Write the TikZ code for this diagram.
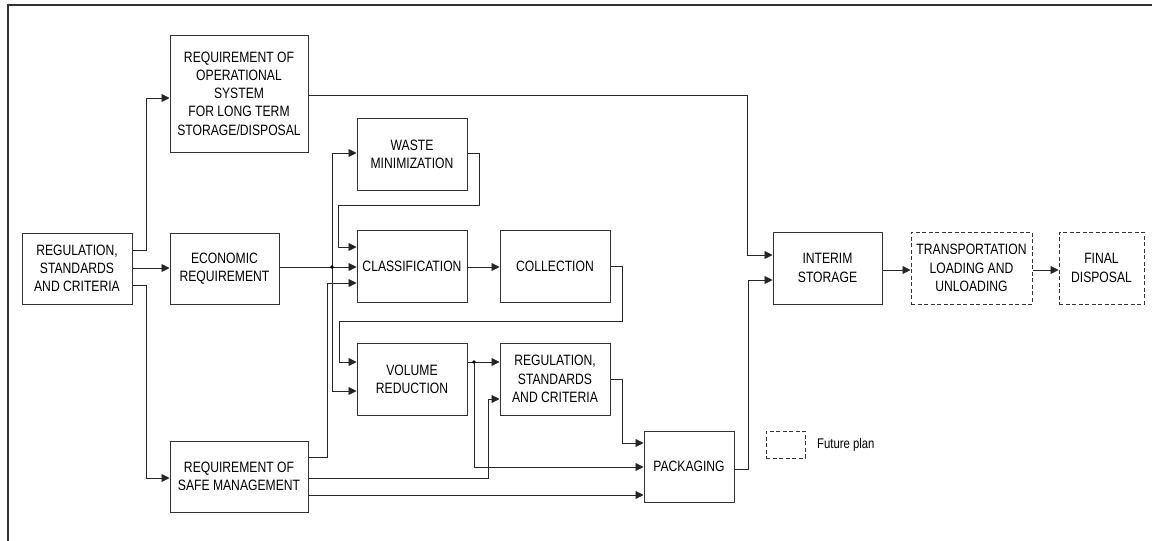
\documentclass[tikz,border=0pt]{standalone}
\usepackage{fontspec}
\setmainfont{Liberation Sans}[FakeStretch=0.81]
\usetikzlibrary{arrows.meta}
\begin{document}
\begin{tikzpicture}[x=1pt,y=-1pt,
  box/.style={draw=black!80, line width=1pt, inner sep=0pt, align=center,
    font=\fontsize{15}{18.3}\selectfont},
  futurebox/.style={box, dash pattern=on 4pt off 2.5pt},
  arr/.style={draw=black!85, line width=0.9pt, -{Triangle[length=8pt,width=8pt]}},
  dot/.style={fill=black, circle, inner sep=0pt, minimum size=3.6pt}]
\useasboundingbox (0,0) rectangle (1152,541);
% partial frame
\draw[black!80, line width=1.8pt] (8,541) -- (8,5) -- (1152,5);

% process blocks
\node[box, minimum width=110pt, minimum height=71pt] (A) at (77,268.5) {REGULATION,\\STANDARDS\\AND CRITERIA};
\node[box, minimum width=138pt, minimum height=117pt] (B) at (239,93.5) {REQUIREMENT OF\\OPERATIONAL\\SYSTEM\\FOR LONG TERM\\STORAGE/DISPOSAL};
\node[box, minimum width=109pt, minimum height=71pt] (C) at (224.5,268.5) {ECONOMIC\\REQUIREMENT};
\node[box, minimum width=138pt, minimum height=71pt] (D) at (239,476.5) {REQUIREMENT OF\\SAFE MANAGEMENT};
\node[box, minimum width=110pt, minimum height=72pt] (WM) at (412,154) {WASTE\\MINIMIZATION};
\node[box, minimum width=110pt, minimum height=72pt] (CL) at (412,266) {CLASSIFICATION};
\node[box, minimum width=110pt, minimum height=72pt] (CO) at (555,266) {COLLECTION};
\node[box, minimum width=110pt, minimum height=72pt] (VR) at (412,379) {VOLUME\\REDUCTION};
\node[box, minimum width=110pt, minimum height=72pt] (R2) at (555,379) {REGULATION,\\STANDARDS\\AND CRITERIA};
\node[box, minimum width=90pt, minimum height=71pt] (PK) at (689,466.5) {PACKAGING};
\node[box, minimum width=109pt, minimum height=72pt] (IS) at (827.5,268) {INTERIM\\STORAGE};
\node[futurebox, minimum width=121pt, minimum height=72pt] (TR) at (971.5,268) {TRANSPORTATION\\LOADING AND\\UNLOADING};
\node[futurebox, minimum width=85pt, minimum height=72pt] (FD) at (1101.5,268) {FINAL\\DISPOSAL};

% legend
\node[futurebox, minimum width=39pt, minimum height=27pt] (LG) at (785.5,444.5) {};
\node[anchor=west, inner sep=0pt, font=\fontsize{14}{16}\selectfont] (LGT) at (817,444.5) {Future plan};

% junctions
\coordinate (j1) at (332,267);
\coordinate (j2) at (474,362);

% connectors
\draw[arr] (A.east|-0,250) -| (146,98) -- (B.west|-0,98);
\draw[arr] (A.east|-0,268) -- (C.west|-0,268);
\draw[arr] (A.east|-0,285) -| (146,478) -- (D.west|-0,478);

\draw[arr] (C.east|-0,267) -- (CL.west|-0,267);
\draw[arr] (j1) |- (WM.west|-0,153);
\draw[arr] (j1) |- (VR.west|-0,391);
\node[dot] at (j1) {};

\draw[arr] (WM.east|-0,153) -| (479,205) -| (338,247) -- (CL.west|-0,247);
\draw[arr] (D.east|-0,457) -| (327,283) -- (CL.west|-0,283);
\draw[arr] (CL.east|-0,267) -- (CO.west|-0,267);
\draw[arr] (CO.east|-0,266) -| (622,321) -| (339,362) -- (VR.west|-0,362);

\draw[arr] (VR.east|-0,362) -- (R2.west|-0,362);
\draw[arr] (j2) |- (PK.west|-0,467);
\node[dot] at (j2) {};
\draw[arr] (D.east|-0,478) -| (488,399) -- (R2.west|-0,399);
\draw[arr] (D.east|-0,495) -- (PK.west|-0,495);
\draw[arr] (R2.east|-0,379) -| (622,443) -- (PK.west|-0,443);

\draw[arr] (PK.east|-0,469) -| (748,280) -- (IS.west|-0,280);
\draw[arr] (B.east|-0,95) -| (747,255) -- (IS.west|-0,255);
\draw[arr] (IS.east|-0,270) -- (TR.west|-0,270);
\draw[arr] (TR.east|-0,270) -- (FD.west|-0,270);
\end{tikzpicture}
\end{document}
